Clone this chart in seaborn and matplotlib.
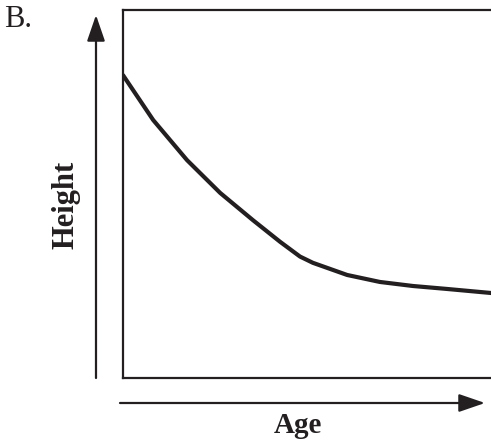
import matplotlib.pyplot as plt
import seaborn as sns
import pandas as pd

# curve (arbitrary units, 0-10 on both axes)
age = [0.0, 0.82, 1.74, 2.64, 3.53, 4.27, 4.81, 5.16, 6.09, 6.98, 7.88, 8.80, 10.0]
height = [8.23, 7.01, 5.92, 5.03, 4.29, 3.70, 3.30, 3.13, 2.80, 2.61, 2.50, 2.42, 2.31]

panel_label = "B."
x_label = "Age"
y_label = "Height"


def main():
    sns.set_style("white")
    plt.rcParams["font.family"] = ["Liberation Serif", "DejaVu Serif"]

    df = pd.DataFrame({"Age": age, "Height": height})

    fig = plt.figure(figsize=(4.91, 4.41), dpi=100)
    ax = fig.add_axes([123 / 491, 63 / 441, 1 - 123 / 491, 368 / 441])

    sns.lineplot(data=df, x="Age", y="Height", color="#231f20", linewidth=3, ax=ax)
    ax.lines[0].set_solid_joinstyle("round")

    ax.set_xlim(0, 10)
    ax.set_ylim(0, 10)
    ax.set_xticks([])
    ax.set_yticks([])
    ax.set_xlabel("")
    ax.set_ylabel("")
    for side in ["left", "bottom", "top"]:
        ax.spines[side].set_color("#231f20")
        ax.spines[side].set_linewidth(1.6)
    ax.spines["right"].set_visible(False)

    arrow = dict(arrowstyle="-|>,head_length=1.6,head_width=0.55", color="#231f20",
                 linewidth=1.6, shrinkA=0, shrinkB=0, mutation_scale=10)
    # vertical arrow
    fig.add_artist(plt.Annotation("", xy=(96 / 491, 1 - 15 / 441), xycoords="figure fraction",
                                  xytext=(96 / 491, 1 - 378 / 441), textcoords="figure fraction",
                                  arrowprops=arrow))
    # horizontal arrow
    fig.add_artist(plt.Annotation("", xy=(485 / 491, 1 - 403 / 441), xycoords="figure fraction",
                                  xytext=(120 / 491, 1 - 403 / 441), textcoords="figure fraction",
                                  arrowprops=arrow))

    fig.text(4 / 491, 1 - 27 / 441, panel_label, fontsize=22, va="baseline", ha="left", color="#231f20")
    fig.text(298 / 491, 1 - 433 / 441, x_label, fontsize=21, fontweight="bold",
             va="baseline", ha="center", color="#231f20")
    fig.text(66 / 491, 1 - 205 / 441, y_label, fontsize=22, fontweight="bold", rotation=90,
             va="center", ha="center", color="#231f20")

    plt.savefig("out.png", dpi=100)


main()
